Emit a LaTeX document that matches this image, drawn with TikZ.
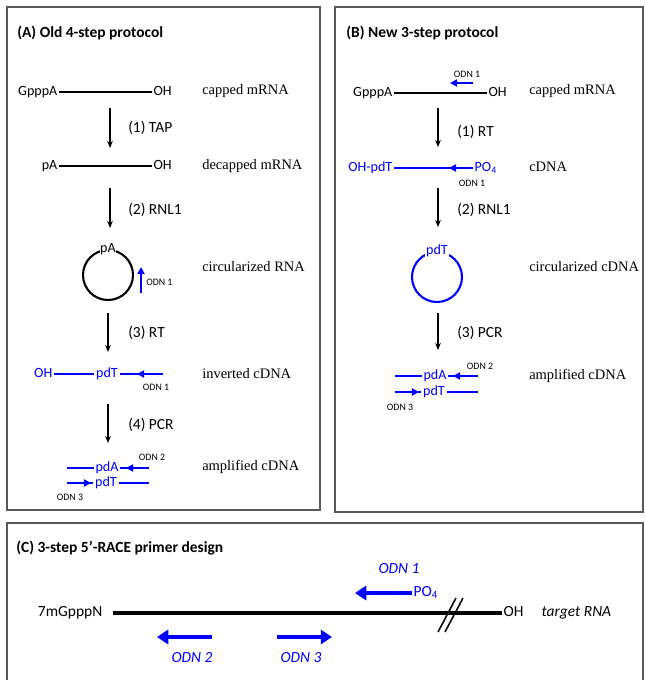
\documentclass[tikz,border=0pt]{standalone}
\usepackage{fontspec}
\setmainfont{Liberation Serif}
\setsansfont{Carlito}
\usetikzlibrary{arrows.meta,positioning}

\begin{document}
\begin{tikzpicture}
      [x = 0.025cm, y = -0.025cm,
      frame/.style = {draw = black!65, line width = 1pt},
      title/.style = {
         anchor = west,
         inner sep = 0pt,
         font = \sffamily\bfseries\fontsize{11}{13}\selectfont
      },
      seq/.style = {
         inner sep = 1pt,
         text height = 7pt,
         text depth = 2pt,
         font = \sffamily\fontsize{10}{12}\selectfont
      },
      bigseq/.style = {
         inner sep = 1pt,
         text height = 7.5pt,
         text depth = 2.5pt,
         font = \sffamily\fontsize{11}{13}\selectfont
      },
      desc/.style = {anchor = west, inner sep = 0pt, font = \fontsize{10.3}{12}\selectfont},
      steplbl/.style = {anchor = west, inner sep = 0pt, font = \sffamily\fontsize{11}{13}\selectfont},
      odn/.style = {inner sep = 0pt, font = \sffamily\fontsize{7}{8}\selectfont},
      flow/.style = {line width = 0.8pt, -{Stealth[length = 5pt, width = 4pt]}},
      rna/.style = {line width = 1.6pt},
      cdna/.style = {blue, line width = 1.5pt},
      primer/.style = {blue, line width = 1.5pt, -{Triangle[length = 5pt, width = 5pt]}},
      bigprimer/.style = {blue, line width = 2.6pt, -{Triangle[length = 8pt, width = 10pt]}}
      ]

      \useasboundingbox (0, 0) rectangle (645, 680);
      \draw[frame] (7, 7) rectangle (320, 510);
      \draw[frame] (335, 7) rectangle (643, 512);
      \draw[frame] (7, 680) -- (7, 523) -- (643, 523) -- (643, 680);

      % (A) old protocol
      \node[title] (atitle) at (17, 33) {(A) Old 4-step protocol};

      \node[seq, anchor = east] (agppp) at (59, 92) {GpppA};
      \node[seq, anchor = west] (aoh1) at (152, 92) {OH};
      \draw[rna] (agppp) -- (aoh1);
      \node[desc] (acap) at (202, 91) {capped mRNA};

      \coordinate (a1s) at (110, 108);
      \coordinate (a1e) at (110, 148);
      \draw[flow] (a1s) -- (a1e);
      \node[steplbl] (atap) at (128, 128) {(1) TAP};

      \node[seq, anchor = east] (apa) at (59, 166) {pA};
      \node[seq, anchor = west] (aoh2) at (152, 166) {OH};
      \draw[rna] (apa) -- (aoh2);
      \node[desc] (adecap) at (202, 166) {decapped mRNA};

      \coordinate (a2s) at (110, 188);
      \coordinate (a2e) at (110, 228);
      \draw[flow] (a2s) -- (a2e);
      \node[steplbl] (arnl) at (128, 210) {(2) RNL1};

      \node[draw, circle, line width = 1.5pt, minimum size = 1.25cm, inner sep = 0pt] (acirc) at (108, 275) {};
      \node[seq, fill = white, inner sep = 0.5pt] (acpa) at (acirc.north) {pA};
      \coordinate (acs) at (141, 293);
      \coordinate (ace) at (141, 267);
      \draw[primer] (acs) -- (ace);
      \node[odn, anchor = west] (acodn) at (146, 282) {ODN 1};
      \node[desc] (acircrna) at (202, 267) {circularized RNA};

      \coordinate (a3s) at (108, 313);
      \coordinate (a3e) at (108, 352);
      \draw[flow] (a3s) -- (a3e);
      \node[steplbl] (art) at (128, 333) {(3) RT};

      \node[seq, blue, anchor = east] (aoh4) at (54, 374) {OH};
      \node[seq, blue] (apdt4) at (107, 374) {pdT};
      \coordinate (a4end) at (163, 374);
      \coordinate (a4tip) at (137, 374);
      \draw[cdna] (aoh4) -- (apdt4) -- (a4end);
      \draw[primer] (a4end) -- (a4tip);
      \node[odn] (a4odn) at (156, 387) {ODN 1};
      \node[desc] (ainv) at (202, 374) {inverted cDNA};

      \coordinate (a4s) at (108, 404);
      \coordinate (a4e) at (108, 443);
      \draw[flow] (a4s) -- (a4e);
      \node[steplbl] (apcr) at (128, 425) {(4) PCR};

      \node[seq, blue] (apda) at (107, 468) {pdA};
      \node[seq, blue] (apdt5) at (106, 483) {pdT};
      \coordinate (a5l) at (67, 468);
      \coordinate (a5r) at (149, 468);
      \coordinate (a5tip) at (126, 468);
      \coordinate (a6l) at (67, 483);
      \coordinate (a6r) at (149, 483);
      \coordinate (a6tip) at (91, 483);
      \draw[cdna] (a5l) -- (apda) -- (a5r);
      \draw[primer] (a5r) -- (a5tip);
      \draw[cdna] (a6l) -- (apdt5) -- (a6r);
      \draw[primer] (a6l) -- (a6tip);
      \node[odn] (aodn2) at (152, 457) {ODN 2};
      \node[odn] (aodn3) at (70, 497) {ODN 3};
      \node[desc] (aamp) at (202, 467) {amplified cDNA};

      % (B) new protocol
      \node[title] (btitle) at (346, 33) {(B) New 3-step protocol};

      \node[seq, anchor = east] (bgppp) at (394, 93) {GpppA};
      \node[seq, anchor = west] (boh1) at (487, 93) {OH};
      \draw[rna] (bgppp) -- (boh1);
      \coordinate (b1ps) at (473, 83);
      \coordinate (b1pe) at (450, 83);
      \draw[primer] (b1ps) -- (b1pe);
      \node[odn] (b1odn) at (467, 74) {ODN 1};
      \node[desc] (bcap) at (529, 91) {capped mRNA};

      \coordinate (b1s) at (438, 108);
      \coordinate (b1e) at (438, 147);
      \draw[flow] (b1s) -- (b1e);
      \node[steplbl] (brt) at (457, 132) {(1) RT};

      \node[seq, blue, anchor = east] (bohpdt) at (394, 168) {OH-pdT};
      \node[seq, blue, anchor = west] (bpo) at (473, 168) {PO\textsubscript{4}};
      \coordinate (b2tip) at (449, 168);
      \draw[cdna] (bohpdt) -- (bpo);
      \draw[primer] (bpo.west) -- (b2tip);
      \node[odn] (b2odn) at (472, 183) {ODN 1};
      \node[desc] (bcdna) at (529, 167) {cDNA};

      \coordinate (b2s) at (438, 188);
      \coordinate (b2e) at (438, 227);
      \draw[flow] (b2s) -- (b2e);
      \node[steplbl] (brnl) at (457, 210) {(2) RNL1};

      \node[draw = blue, circle, line width = 1.5pt, minimum size = 1.25cm, inner sep = 0pt] (bcirc) at (437, 277) {};
      \node[seq, blue, fill = white, inner sep = 0.5pt] (bcpdt) at (bcirc.north) {pdT};
      \node[desc] (bcirccdna) at (529, 267) {circularized cDNA};

      \coordinate (b3s) at (438, 313);
      \coordinate (b3e) at (438, 350);
      \draw[flow] (b3s) -- (b3e);
      \node[steplbl] (bpcr) at (457, 333) {(3) PCR};

      \node[seq, blue] (bpda) at (435, 376) {pdA};
      \node[seq, blue] (bpdt) at (434, 392) {pdT};
      \coordinate (b4l) at (395, 376);
      \coordinate (b4r) at (478, 376);
      \coordinate (b4tip) at (453, 376);
      \coordinate (b5l) at (395, 392);
      \coordinate (b5r) at (478, 392);
      \coordinate (b5tip) at (419, 392);
      \draw[cdna] (b4l) -- (bpda) -- (b4r);
      \draw[primer] (b4r) -- (b4tip);
      \draw[cdna] (b5l) -- (bpdt) -- (b5r);
      \draw[primer] (b5l) -- (b5tip);
      \node[odn] (bodn2) at (480, 366) {ODN 2};
      \node[odn] (bodn3) at (400, 407) {ODN 3};
      \node[desc] (bamp) at (529, 376) {amplified cDNA};

      % (C) primer design
      \node[title] (ctitle) at (16, 548) {(C) 3-step 5’-RACE primer design};

      \node[bigseq, anchor = east] (cgppp) at (104, 613) {7mGpppN};
      \node[bigseq, anchor = west] (coh) at (502, 613) {OH};
      \node[bigseq, anchor = west, font = \sffamily\itshape\fontsize{11}{13}\selectfont] (ctarget) at (540, 613) {target RNA};
      \coordinate (cstart) at (113, 613);
      \draw[line width = 2.8pt] (cstart) -- (coh);
      \draw[line width = 1.1pt] (438, 632) -- (456, 598);
      \draw[line width = 1.1pt] (445, 632) -- (463, 598);

      \node[bigseq, blue, anchor = west] (cpo) at (412, 593) {PO\textsubscript{4}};
      \coordinate (c1tip) at (355, 593);
      \draw[bigprimer] (cpo) -- (c1tip);
      \node[bigseq, blue, font = \sffamily\itshape\fontsize{11}{13}\selectfont] (codn1) at (399, 570) {ODN 1};

      \coordinate (c2s) at (212, 637);
      \coordinate (c2e) at (157, 637);
      \draw[bigprimer] (c2s) -- (c2e);
      \node[bigseq, blue, font = \sffamily\itshape\fontsize{11}{13}\selectfont] (codn2) at (192, 659) {ODN 2};

      \coordinate (c3s) at (277, 637);
      \coordinate (c3e) at (332, 637);
      \draw[bigprimer] (c3s) -- (c3e);
      \node[bigseq, blue, font = \sffamily\itshape\fontsize{11}{13}\selectfont] (codn3) at (301, 659) {ODN 3};

   \end{tikzpicture}
\end{document}
